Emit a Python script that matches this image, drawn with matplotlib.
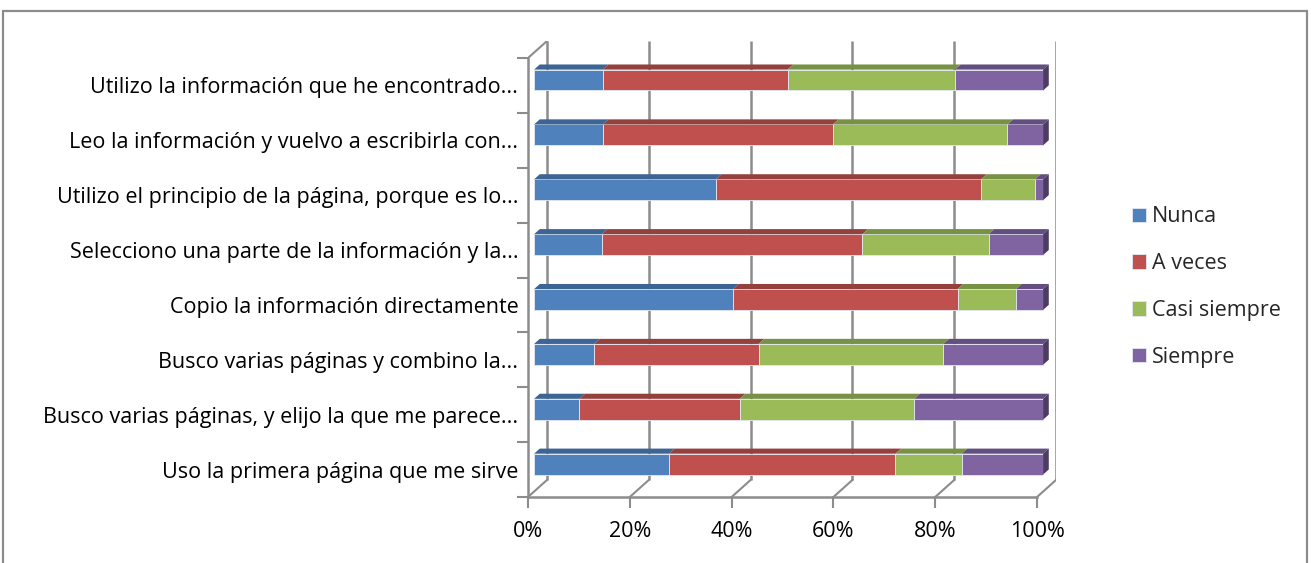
import matplotlib
matplotlib.use("Agg")
import matplotlib.pyplot as plt
import numpy as np
from matplotlib.patches import Polygon, Rectangle

# datos de la encuesta (porcentajes por afirmación, de abajo hacia arriba)
categorias = [
    "Uso la primera página que me sirve",
    "Busco varias páginas, y elijo la que me parece...",
    "Busco varias páginas y combino la...",
    "Copio la información directamente",
    "Selecciono una parte de la información y la...",
    "Utilizo el principio de la página, porque es lo...",
    "Leo la información y vuelvo a escribirla con...",
    "Utilizo la información que he encontrado...",
]
series = ["Nunca", "A veces", "Casi siempre", "Siempre"]
nunca = [26.5, 8.9, 11.8, 39.1, 13.3, 35.7, 13.5, 13.5]
a_veces = [44.5, 31.5, 32.3, 44.1, 51.2, 52.1, 45.2, 36.3]
casi_siempre = [13.0, 34.3, 36.3, 11.5, 24.8, 10.6, 34.3, 32.9]
siempre = [16.0, 25.3, 19.6, 5.3, 10.7, 1.6, 7.0, 17.3]
ticks_x = [0, 20, 40, 60, 80, 100]

colores = ["#4F81BD", "#C0504D", "#9BBB59", "#8064A2"]
colores_arriba = ["#3C6494", "#94403D", "#779145", "#634E7F"]
colores_lado = ["#2F4E74", "#733230", "#5D7136", "#4C3C62"]
gris = "#8C8C8C"
tam = 15.5

plt.rcParams["font.family"] = ["Open Sans", "DejaVu Sans"]
plt.rcParams["text.color"] = "#262626"

W, H = 1311, 563
fig = plt.figure(figsize=(W / 100, H / 100), dpi=100)

# marco exterior
fig.patches.append(Rectangle((3 / W, -0.01), (1307 - 3) / W, (H - 11) / H + 0.01,
                             transform=fig.transFigure, fill=False,
                             edgecolor=gris, lw=1.6))

# profundidad del efecto 3D en unidades de datos
DX, DY = 3.73, 0.31
n = len(categorias)
ax = fig.add_axes([528 / W, (H - 497) / H, (1056 - 528) / W, (497 - 41) / H])
ax.set_xlim(0, 100 + DX)
ax.set_ylim(0, n + DY)
ax.patch.set_visible(False)

for s in ["top", "right"]:
    ax.spines[s].set_visible(False)
ax.spines["bottom"].set_bounds(0, 100)
ax.spines["left"].set_bounds(0, n)
for s in ["bottom", "left"]:
    ax.spines[s].set_color(gris)
    ax.spines[s].set_linewidth(1.8)

# pared del fondo y suelo
ax.vlines([v + DX for v in ticks_x], DY, n + DY, color=gris, lw=1.8, zorder=1)
for v in ticks_x:
    ax.plot([v, v + DX], [0, DY], color=gris, lw=1.5, zorder=1)
ax.plot([0, DX], [n, n + DY], color=gris, lw=1.5, zorder=1)

ax.set_xticks(ticks_x)
ax.set_xticklabels([f"{v}%" for v in ticks_x], fontsize=tam)
ax.tick_params(axis="x", length=8, width=1.5, color=gris, pad=9)
ax.set_yticks(np.arange(n + 1))
ax.set_yticklabels([])
ax.set_yticks(np.arange(n) + 0.5, minor=True)
ax.set_yticklabels(categorias, minor=True, fontsize=tam)
ax.tick_params(axis="y", which="major", length=8, width=1.5, color=gris)
ax.tick_params(axis="y", which="minor", length=0, pad=7)

# barras apiladas con cara frontal, superior y lateral
valores = np.array([nunca, a_veces, casi_siempre, siempre])
d0, dd, bh = 0.32, 0.30, 0.38
y = np.arange(n) + 0.5 + d0 * DY
izq = np.zeros(n)
handles = []
for j, serie in enumerate(series):
    v = valores[j]
    barras = ax.barh(y, v, left=izq + d0 * DX, height=bh, color=colores[j],
                     edgecolor="#E4E9F2", linewidth=0.6, label=serie, zorder=3)
    handles.append(barras)
    for k in range(n):
        x0 = izq[k] + d0 * DX
        x1 = x0 + v[k]
        yt = y[k] + bh / 2
        yb = y[k] - bh / 2
        ax.add_patch(Polygon([(x0, yt), (x1, yt), (x1 + dd * DX, yt + dd * DY),
                              (x0 + dd * DX, yt + dd * DY)],
                             closed=True, facecolor=colores_arriba[j],
                             edgecolor="none", zorder=3))
        if j == len(series) - 1:
            ax.add_patch(Polygon([(x1, yb), (x1, yt), (x1 + dd * DX, yt + dd * DY),
                                  (x1 + dd * DX, yb + dd * DY)],
                                 closed=True, facecolor=colores_lado[j],
                                 edgecolor="none", zorder=3))
    izq = izq + v

fig.legend(handles, series, loc="center left",
           bbox_to_anchor=(1113 / W, (H - 287) / H), frameon=False,
           fontsize=tam, handlelength=0.65, handleheight=0.65,
           handletextpad=0.25, labelspacing=1.2)

fig.savefig("out.png", dpi=100)
